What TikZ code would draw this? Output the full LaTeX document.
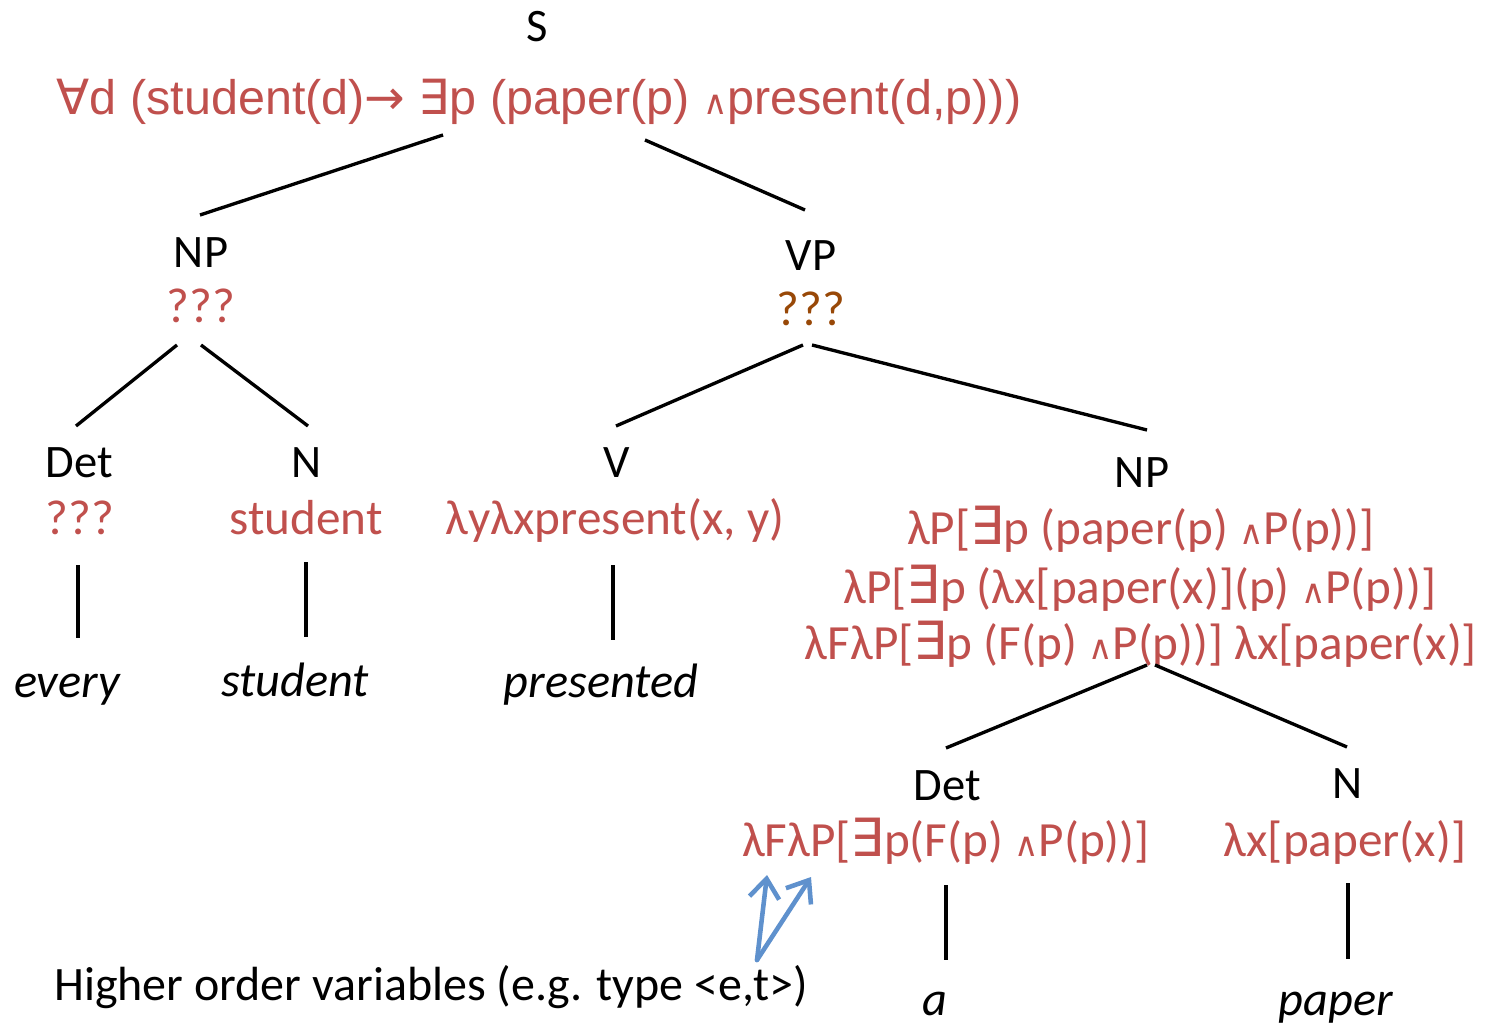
\documentclass[tikz,border=0pt]{standalone}
\usepackage{fontspec}
\setmainfont{Carlito}
\newfontfamily\arialf{Liberation Sans}
\newfontfamily\symf{DejaVu Sans}
\usetikzlibrary{arrows.meta}
\definecolor{semred}{RGB}{192,80,77}
\definecolor{sembrown}{RGB}{152,72,7}
\definecolor{noteblue}{RGB}{95,145,205}
\newcommand{\fa}{{\symf ∀}}
\newcommand{\ex}{{\symf ∃}}
\newcommand{\bex}{{\symf\fontsize{30}{30}\selectfont ∃}}
\newcommand{\impl}{{\symf →}}
\newcommand{\smwedge}{{\symf\fontsize{19}{19}\selectfont ∧}}
\begin{document}
\begin{tikzpicture}[x=0.02cm, y=-0.02cm,
    cat/.style={anchor=base, inner sep=0pt, font=\fontsize{26.5}{30}\selectfont},
    sem/.style={anchor=base, inner sep=0pt, text=semred, font=\fontsize{28}{32}\selectfont},
    word/.style={anchor=base, inner sep=0pt, font=\fontsize{27.5}{31}\selectfont\itshape},
    edge/.style={line width=1.9pt},
    hint/.style={noteblue, line width=2.6pt, line cap=round, -{Straight Barb[length=11pt, width=17pt, line width=2.6pt]}}]
    \useasboundingbox (0,0) rectangle (1487,1023);
    % top of the tree
    \node[cat] (s) at (537,42) {S};
    \node[anchor=base, inner sep=0pt, text=semred, font=\arialf\fontsize{27.6}{32}\selectfont] (semS) at (539,115)
        {\fa d (student(d)\impl\ \ex p (paper(p) \smwedge present(d,p)))};
    \node[cat] (np1) at (201,268) {NP};
    \node[sem] (semNP1) at (201,323) {???};
    \node[cat] (vp) at (811,271) {VP};
    \node[sem, text=sembrown] (semVP) at (811,326) {???};
    %
    \node[cat] (det1) at (79,478) {Det};
    \node[sem] (semDet1) at (80,534) {???};
    \node[cat] (n1) at (307,478) {N};
    \node[sem] (semN1) at (306,534) {student};
    \node[cat] (v) at (617,478) {V};
    \node[sem] (semV) at (615,534) {λyλxpresent(x, y)};
    \node[cat] (np2) at (1142,487) {NP};
    \node[sem] (semNPa) at (1141,544) {λP[\bex p (paper(p) \smwedge P(p))]};
    \node[sem] (semNPb) at (1140,603) {λP[\bex p (λx[paper(x)](p) \smwedge P(p))]};
    \node[sem] (semNPc) at (1141,659) {λFλP[\bex p (F(p) \smwedge P(p))] λx[paper(x)]};
    %
    \node[word] (w1) at (67,697) {every};
    \node[word] (w2) at (295,696) {student};
    \node[word] (w3) at (601,697) {presented};
    %
    \node[cat] (det2) at (947,800) {Det};
    \node[sem] (semDet2) at (946,856) {λFλP[\bex p(F(p) \smwedge P(p))]};
    \node[cat] (n2) at (1348,798) {N};
    \node[sem] (semN2) at (1345,856) {λx[paper(x)]};
    \node[word] (w4) at (935,1015) {a};
    \node[word] (w5) at (1336,1015) {paper};
    \node[cat, font=\fontsize{27.3}{31}\selectfont] (note) at (431,1000) {Higher order variables (e.g. type <e,t>)};
    % branches
    \draw[edge] ([shift={(-96,20)}]semS.base) -- ([shift={(-1,-53)}]np1.base);
    \draw[edge] ([shift={(106,25)}]semS.base) -- ([shift={(-6,-61)}]vp.base);
    \draw[edge] ([shift={(-24,22)}]semNP1.base) -- ([shift={(-3,-52)}]det1.base);
    \draw[edge] ([shift={(0,22)}]semNP1.base) -- ([shift={(1,-52)}]n1.base);
    \draw[edge] ([shift={(-8,19)}]semVP.base) -- ([shift={(-1,-52)}]v.base);
    \draw[edge] ([shift={(1,19)}]semVP.base) -- ([shift={(5,-57)}]np2.base);
    \draw[edge] ([shift={(6,6)}]semNPc.base) -- ([shift={(-1,-52)}]det2.base);
    \draw[edge] ([shift={(14,6)}]semNPc.base) -- ([shift={(-1,-51)}]n2.base);
    % lexical links
    \draw[edge] ([shift={(-2,31)}]semDet1.base) -- ([shift={(11,-59)}]w1.base);
    \draw[edge] ([shift={(0,28)}]semN1.base) -- ([shift={(11,-59)}]w2.base);
    \draw[edge] ([shift={(-2,31)}]semV.base) -- ([shift={(12,-57)}]w3.base);
    \draw[edge] ([shift={(0,29)}]semDet2.base) -- ([shift={(11,-55)}]w4.base);
    \draw[edge] ([shift={(3,27)}]semN2.base) -- ([shift={(12,-56)}]w5.base);
    % pointers to F and P
    \draw[hint] ([shift={(326,-40)}]note.base) -- ([shift={(-179,19)}]semDet2.base);
    \draw[hint] ([shift={(326,-40)}]note.base) -- ([shift={(-135,21)}]semDet2.base);
\end{tikzpicture}
\end{document}
